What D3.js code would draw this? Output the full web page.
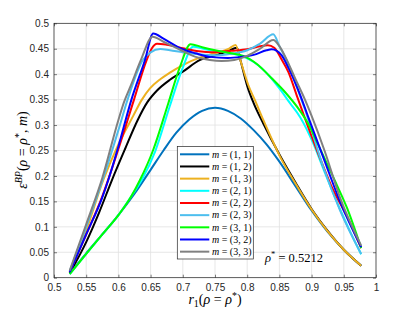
<!DOCTYPE html>
<html><head><meta charset="utf-8">
<script src="https://cdn.jsdelivr.net/npm/d3@7"></script>
<style>body{margin:0;background:#fff}</style>
</head><body><svg id="c" width="415" height="312"></svg>
<script>
// ---- data ----
const seriesNames = ["(1,1)","(1,2)","(1,3)","(2,1)","(2,2)","(2,3)","(3,1)","(3,2)","(3,3)"];
const seriesColors = ["#0072BD","#000000","#EDB120","#00FFFF","#FF0000","#4DBEEE","#00FF00","#0000FF","#808080"];
const s11 = [[0.5244,0.0086],[0.55,0.048],[0.575,0.085],[0.6,0.123],[0.625,0.165],[0.65,0.212],[0.67,0.250],[0.69,0.285],[0.71,0.311],[0.73,0.328],[0.75,0.334],[0.77,0.328],[0.79,0.313],[0.81,0.29],[0.83,0.262],[0.85,0.228],[0.875,0.18],[0.9,0.132],[0.925,0.09],[0.95,0.055],[0.977,0.0236]];
const s12 = [[0.5244,0.009],[0.55,0.07],[0.57,0.128],[0.59,0.192],[0.61,0.252],[0.63,0.31],[0.645,0.345],[0.66,0.368],[0.68,0.389],[0.70,0.405],[0.727,0.428],[0.75,0.437],[0.77,0.445],[0.784,0.452],[0.79,0.425],[0.80,0.377],[0.81,0.343],[0.825,0.303],[0.85,0.242],[0.875,0.187],[0.9,0.135],[0.925,0.092],[0.95,0.055],[0.977,0.0236]];
const s13 = [[0.5244,0.011],[0.55,0.093],[0.5766,0.192],[0.60,0.262],[0.623,0.318],[0.636,0.349],[0.649,0.372],[0.665,0.39],[0.68,0.403],[0.70,0.418],[0.725,0.432],[0.7526,0.442],[0.77,0.449],[0.782,0.4574],[0.79,0.425],[0.8017,0.3787],[0.812,0.349],[0.825,0.31],[0.851,0.238],[0.875,0.185],[0.9,0.134],[0.925,0.091],[0.95,0.055],[0.977,0.0236]];
const s21 = [[0.5244,0.007],[0.55,0.047],[0.575,0.085],[0.6,0.123],[0.62,0.16],[0.637,0.194],[0.657,0.248],[0.68,0.338],[0.70,0.413],[0.716,0.454],[0.735,0.449],[0.76,0.444],[0.785,0.438],[0.81,0.424],[0.8354,0.395],[0.85,0.372],[0.8665,0.343],[0.882,0.316],[0.9026,0.264],[0.918,0.215],[0.944,0.135],[0.96,0.09],[0.977,0.046]];
const s22 = [[0.5244,0.011],[0.55,0.085],[0.575,0.16],[0.6,0.253],[0.624,0.349],[0.644,0.428],[0.652,0.451],[0.66,0.46],[0.675,0.458],[0.70,0.451],[0.725,0.445],[0.745,0.443],[0.775,0.446],[0.80,0.449],[0.82,0.455],[0.832,0.457],[0.842,0.452],[0.853,0.43],[0.864,0.404],[0.877,0.358],[0.89,0.312],[0.91,0.245],[0.93,0.182],[0.955,0.12],[0.977,0.058]];
const s23 = [[0.5244,0.013],[0.55,0.10],[0.575,0.19],[0.6,0.29],[0.614,0.349],[0.638,0.428],[0.65,0.443],[0.665,0.4495],[0.68,0.447],[0.70,0.443],[0.725,0.439],[0.75,0.437],[0.775,0.44],[0.80,0.447],[0.82,0.46],[0.8405,0.4784],[0.85,0.455],[0.861,0.428],[0.877,0.375],[0.8898,0.33],[0.918,0.218],[0.944,0.133],[0.977,0.0466]];
const s31 = [[0.5244,0.007],[0.55,0.047],[0.575,0.085],[0.6,0.123],[0.62,0.16],[0.6335,0.192],[0.654,0.251],[0.6775,0.343],[0.6957,0.4147],[0.712,0.459],[0.73,0.453],[0.75,0.447],[0.775,0.441],[0.794,0.436],[0.815,0.42],[0.838,0.392],[0.86,0.363],[0.882,0.328],[0.895,0.302],[0.91,0.262],[0.925,0.221],[0.94,0.18],[0.955,0.137],[0.977,0.058]];
const s32 = [[0.5244,0.011],[0.55,0.085],[0.575,0.158],[0.5843,0.192],[0.60,0.258],[0.62,0.349],[0.6413,0.428],[0.654,0.480],[0.67,0.47],[0.696,0.451],[0.72,0.441],[0.742,0.434],[0.77,0.432],[0.79,0.434],[0.81,0.438],[0.83,0.447],[0.838,0.449],[0.846,0.446],[0.8536,0.437],[0.865,0.41],[0.882,0.36],[0.895,0.315],[0.92,0.23],[0.944,0.15],[0.977,0.06]];
const s33 = [[0.5244,0.014],[0.55,0.105],[0.575,0.196],[0.60,0.31],[0.6087,0.345],[0.62,0.38],[0.635,0.428],[0.653,0.4737],[0.67,0.4637],[0.696,0.448],[0.72,0.434],[0.742,0.428],[0.76,0.426],[0.78,0.428],[0.80,0.436],[0.82,0.45],[0.8405,0.467],[0.85,0.455],[0.86,0.432],[0.875,0.39],[0.89,0.349],[0.90,0.318],[0.92,0.25],[0.944,0.158],[0.977,0.063]];
const seriesValues = [s11,s12,s13,s21,s22,s23,s31,s32,s33];
const xTicks = [0.5,0.55,0.6,0.65,0.7,0.75,0.8,0.85,0.9,0.95,1];
const xTickLabels = ["0.5","0.55","0.6","0.65","0.7","0.75","0.8","0.85","0.9","0.95","1"];
const yTicks = [0,0.05,0.1,0.15,0.2,0.25,0.3,0.35,0.4,0.45,0.5];
const yTickLabels = ["0","0.05","0.1","0.15","0.2","0.25","0.3","0.35","0.4","0.45","0.5"];
const annotation = "0.5212";

// ---- drawing ----
const svg = d3.select("#c");
const L=54, R=376, T=23.3, B=277.7;
const x = d3.scaleLinear().domain([0.5,1]).range([L,R]);
const y = d3.scaleLinear().domain([0,0.5]).range([B,T]);

// grid
const grid = svg.append("g");
grid.selectAll(".gx").data(xTicks).enter().append("line")
  .attr("x1",d=>x(d)).attr("x2",d=>x(d)).attr("y1",T).attr("y2",B)
  .attr("stroke","#e1e1e1").attr("stroke-width",0.8);
grid.selectAll(".gy").data(yTicks).enter().append("line")
  .attr("y1",d=>y(d)).attr("y2",d=>y(d)).attr("x1",L).attr("x2",R)
  .attr("stroke","#e1e1e1").attr("stroke-width",0.8);

// axes
const fmtX = d => xTickLabels[xTicks.indexOf(d)];
const fmtY = d => yTickLabels[yTicks.indexOf(d)];
const axFont = "'Liberation Sans', Arial, sans-serif";
function styleAxis(g){ g.select(".domain").remove(); g.selectAll("line").attr("stroke","#262626").attr("stroke-width",0.6);
  g.selectAll("text").attr("fill","#262626").style("font-family",axFont).style("font-size","10px"); }
svg.append("g").attr("transform",`translate(0,${B})`).call(d3.axisBottom(x).tickValues(xTicks).tickFormat(fmtX).tickSizeInner(-3).tickSizeOuter(0).tickPadding(6)).call(styleAxis);
svg.append("g").attr("transform",`translate(${L},0)`).call(d3.axisLeft(y).tickValues(yTicks).tickFormat(fmtY).tickSizeInner(-3).tickSizeOuter(0).tickPadding(5)).call(styleAxis);
svg.append("g").attr("transform",`translate(0,${T})`).call(d3.axisTop(x).tickValues(xTicks).tickFormat("").tickSizeInner(-3).tickSizeOuter(0)).call(styleAxis);
svg.append("g").attr("transform",`translate(${R},0)`).call(d3.axisRight(y).tickValues(yTicks).tickFormat("").tickSizeInner(-3).tickSizeOuter(0)).call(styleAxis);

// clip
svg.append("clipPath").attr("id","clip").append("rect").attr("x",L).attr("y",T).attr("width",R-L).attr("height",B-T);
const line = d3.line().x(d=>x(d[0])).y(d=>y(d[1])).curve(d3.curveMonotoneX);
svg.append("g").attr("clip-path","url(#clip)").selectAll("path").data(seriesValues).enter().append("path")
  .attr("d",line).attr("fill","none").attr("stroke",(d,i)=>seriesColors[i]).attr("stroke-width",2)
  .attr("stroke-linejoin","round");

// border
svg.append("rect").attr("x",L).attr("y",T).attr("width",R-L).attr("height",B-T)
  .attr("fill","none").attr("stroke","#262626").attr("stroke-width",0.7);

const serif = "'Liberation Serif', 'Times New Roman', serif";
// legend
const lg = svg.append("g");
lg.append("rect").attr("x",177.3).attr("y",146.5).attr("width",76).attr("height",112.5)
  .attr("fill","#fff").attr("stroke","#262626").attr("stroke-width",0.7);
const ly0 = 154.3, ldy = 12.17;
seriesNames.forEach((n,i)=>{
  const yy = ly0 + i*ldy;
  lg.append("line").attr("x1",180).attr("x2",209.3).attr("y1",yy).attr("y2",yy)
    .attr("stroke",seriesColors[i]).attr("stroke-width",2);
  const t = lg.append("text").attr("x",212).attr("y",yy+3.3).style("font-family",serif).style("font-size","10px").attr("fill","#000");
  t.append("tspan").style("font-style","italic").text("m");
  t.append("tspan").text(" = " + n.replace(",", ", "));
});

// annotation
const an = svg.append("text").attr("x",265).attr("y",261.5).style("font-family",serif).style("font-size","12.5px");
an.append("tspan").style("font-style","italic").text("ρ");
an.append("tspan").attr("dy",-4.5).style("font-size","8.5px").text("*");
an.append("tspan").attr("dy",4.5).text(" = " + annotation);

// x label
const xl = svg.append("text").attr("x",215).attr("y",303.5).attr("text-anchor","middle").style("font-family",serif).style("font-size","14px");
xl.append("tspan").style("font-style","italic").text("r");
xl.append("tspan").attr("dy",3).style("font-size","10px").text("1");
xl.append("tspan").attr("dy",-3).text("(");
xl.append("tspan").style("font-style","italic").text("ρ");
xl.append("tspan").text(" = ");
xl.append("tspan").style("font-style","italic").text("ρ");
xl.append("tspan").attr("dy",-5).style("font-size","10px").text("*");
xl.append("tspan").attr("dy",5).text(")");

// y label
const yl = svg.append("text").attr("transform","translate(27,150) rotate(-90)").attr("text-anchor","middle").style("font-family",serif).style("font-size","14px");
yl.append("tspan").style("font-style","italic").text("ε");
yl.append("tspan").attr("dy",-5).style("font-size","10px").style("font-style","italic").text("BP");
yl.append("tspan").attr("dy",5).text("(");
yl.append("tspan").style("font-style","italic").text("ρ");
yl.append("tspan").text(" = ");
yl.append("tspan").style("font-style","italic").text("ρ");
yl.append("tspan").attr("dy",-5).style("font-size","10px").text("*");
yl.append("tspan").attr("dy",5).text(", ");
yl.append("tspan").style("font-style","italic").text("m");
yl.append("tspan").text(")");
</script></body></html>
